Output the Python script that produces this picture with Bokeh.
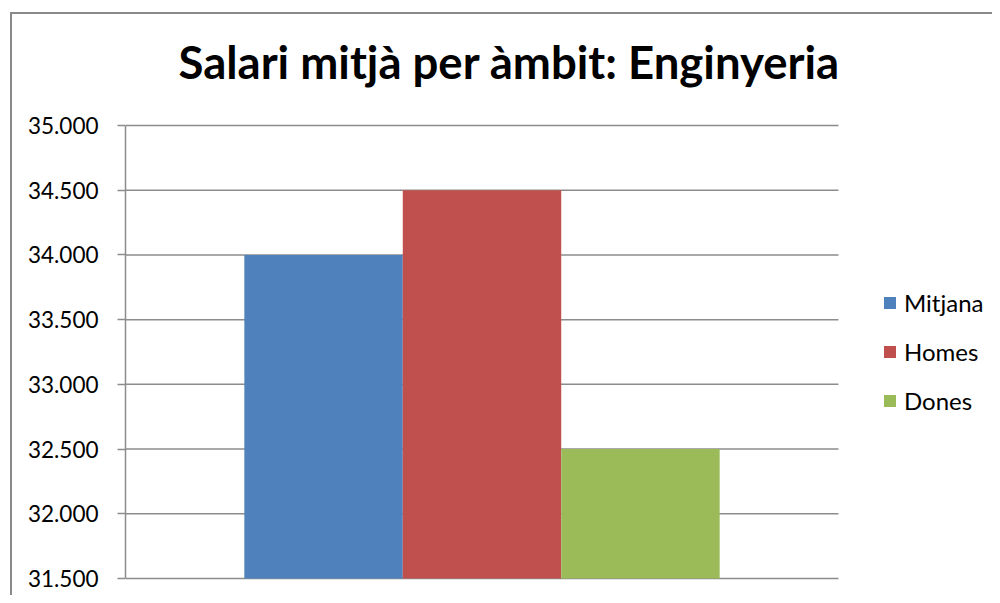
from bokeh.plotting import figure
from bokeh.models import Range1d, FixedTicker, Legend, LegendItem, Label
from bokeh.embed import file_html
from bokeh.resources import INLINE

title_text = "Salari mitjà per àmbit: Enginyeria"
category = ["Enginyeria"]
series = ["Mitjana", "Homes", "Dones"]
values = [34000, 34500, 32500]
colors = ["#4F81BD", "#C0504D", "#9BBB59"]
y_ticks = [31500, 32000, 32500, 33000, 33500, 34000, 34500, 35000]
y_tick_labels = ["31.500", "32.000", "32.500", "33.000", "33.500", "34.000", "34.500", "35.000"]

FONT = "Lato"
GRID = "#8C8C8C"
BORDER = "#898989"

# ---- layout (pixels, page coordinates) ----
W, H = 992, 595
AX_L, AX_T, AX_B = 125, 125, 578   # plot-area edges
PLOT_W = 713                 # pixel width of the category band
TITLE_X, TITLE_Y = 178, 61
LEG_X, LEG_BOTTOM = 882, 415

y_per_px = (y_ticks[-1] - y_ticks[0]) / (AX_B - AX_T)
y_start = y_ticks[0] - (H - AX_B) * y_per_px
y_end = y_ticks[-1] + AX_T * y_per_px
x_end = len(category) * (W - AX_L) / PLOT_W

def px_to_x(px):
    return (px - AX_L) / PLOT_W

def py_to_y(py):
    return y_ticks[0] + (AX_B - py) * y_per_px

p = figure(width=W, height=H, x_range=Range1d(0, x_end), y_range=Range1d(y_start, y_end),
           output_backend="svg", toolbar_location=None,
           min_border_left=AX_L, min_border_right=0, min_border_top=0, min_border_bottom=0)
# chart border (left and top edges visible in the reference)
p.styles = {"background": (f"linear-gradient({BORDER},{BORDER}) 10px 12px / 2px 100% no-repeat, "
                           f"linear-gradient({BORDER},{BORDER}) 10px 12px / 100% 2px no-repeat, white")}

p.outline_line_color = None
p.background_fill_alpha = 0
p.border_fill_alpha = 0

# horizontal gridlines over the category band only
n = len(category)
p.segment(x0=[0] * len(y_ticks), x1=[n] * len(y_ticks), y0=y_ticks, y1=y_ticks,
          line_color=GRID, line_width=1.5)

bar_w = 2.0 / 3.0 / len(series)
items = []
for i, (name, val, col) in enumerate(zip(series, values, colors)):
    xc = [k + 0.5 + (i - (len(series) - 1) / 2) * bar_w for k in range(n)]
    r = p.vbar(x=xc, top=[val], bottom=y_ticks[0], width=bar_w,
               fill_color=col, line_color=None)
    items.append(LegendItem(label=name, renderers=[r]))

p.xaxis.visible = False
p.xgrid.visible = False
p.ygrid.visible = False

ya = p.yaxis[0]
ya.bounds = (y_ticks[0], y_ticks[-1])
ya.ticker = FixedTicker(ticks=y_ticks)
ya.major_label_overrides = {t: l for t, l in zip(y_ticks, y_tick_labels)}
ya.axis_line_color = GRID
ya.axis_line_width = 1.5
ya.major_tick_line_color = GRID
ya.major_tick_line_width = 1.5
ya.major_tick_out = 8
ya.major_tick_in = 0
ya.minor_tick_line_color = None
ya.major_label_standoff = 19
ya.major_label_text_font = FONT
ya.major_label_text_font_size = "22.5px"
ya.major_label_text_color = "#000000"

title = Label(x=px_to_x(TITLE_X), y=py_to_y(TITLE_Y), text=title_text,
              text_font=FONT, text_font_size="45.5px", text_font_style="bold",
              text_color="#000000", text_align="left", text_baseline="alphabetic")
p.add_layout(title)

legend = Legend(items=items, location=(LEG_X - AX_L, H - LEG_BOTTOM), orientation="vertical",
                label_text_font=FONT, label_text_font_size="24px", label_text_color="#000000",
                glyph_width=15, glyph_height=15, label_height=20, label_standoff=7,
                spacing=20, padding=0, margin=0, border_line_color=None,
                background_fill_alpha=0)
p.add_layout(legend, "center")

open("out.html", "w").write(file_html(p, INLINE))
